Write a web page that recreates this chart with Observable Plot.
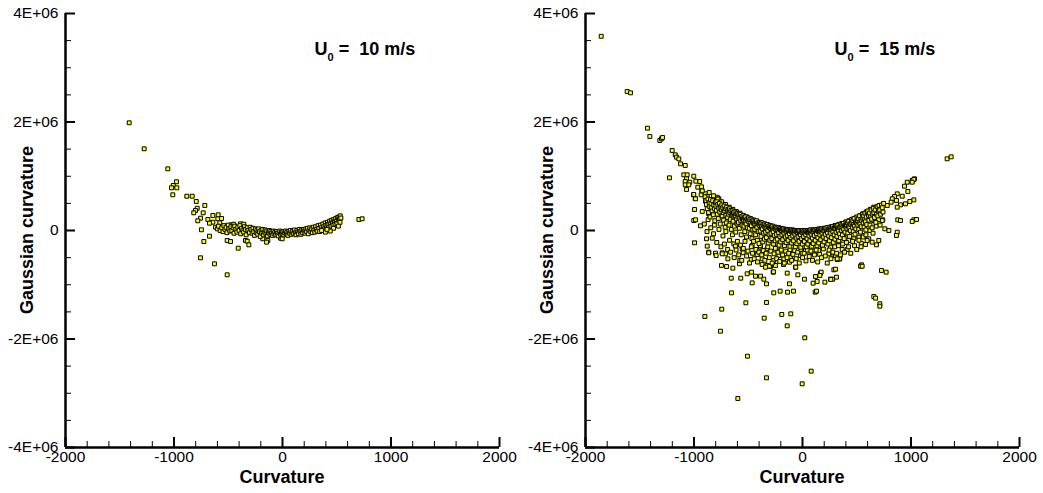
<!DOCTYPE html>
<html><head><meta charset="utf-8">
<script src="https://cdn.jsdelivr.net/npm/d3@7"></script>
<script src="https://cdn.jsdelivr.net/npm/@observablehq/plot@0.6"></script>
<style>
body{margin:0;background:#fff;}
#wrap{display:flex;width:1043px;height:493px;overflow:hidden;}
</style></head><body><div id="wrap"></div>
<script>
const xTicksMajor = [-2000, -1000, 0, 1000, 2000];
const xTicksMinor = [-1800,-1600,-1400,-1200,-800,-600,-400,-200,200,400,600,800,1200,1400,1600,1800];
const yTicksMajor = [-4, -2, 0, 2, 4]; // Gaussian curvature in units of 1E+06
const yTicksMinor = [-3.5,-3,-2.5,-1.5,-1,-0.5,0.5,1,1.5,2.5,3,3.5];
const panelSpeeds = ["10 m/s", "15 m/s"];
const xLabel = "Curvature";
const yLabel = "Gaussian curvature";

// [curvature, Gaussian curvature / 1E+06]
const u10Points = [
[-1413,1.985],[-1275,1.506],[-1057,1.137],[-977,0.898],[-1007,0.83],[-1023,0.787],[-974,0.787],[-1011,0.658],[-882,0.632],[-832,0.632],[-795,0.535],[-716,0.461],[-786,0.41],[-802,0.369],[-818,0.326],[-731,0.326],[-642,0.276],[-593,0.289],[-756,0.227],[-688,0.203],[-596,0.216],[-562,0.221],[-781,0.179],[-642,0.153],[-673,0.135],[-578,0.142],[-470,0.105],[-449,0.116],[-387,0.123],[-357,0.116],[-747,0.013],[-673,-0.105],[-725,-0.203],[-510,-0.184],[-479,-0.203],[-341,-0.184],[-325,-0.197],[-310,-0.264],[-408,-0.326],[-756,-0.503],[-627,-0.614],[-510,-0.817],[-182,-0.153],[-135,-0.184],[-147,-0.215],[-18,-0.142],[-3,-0.153],[704,0.203],[734,0.216],
[-617,0.06],[-600,0.03],[-590,0.08],[-575,0.0],[-560,0.05],[-548,-0.02],[-540,0.09],[-530,0.02],[-520,0.06],[-512,-0.04],[-500,0.1],[-495,0.03],[-485,-0.01],[-475,0.07],[-468,0.0],[-455,0.05],[-447,-0.05],[-440,0.08],[-430,0.02],[-420,-0.03],[-412,0.06],[-400,0.0],[-393,0.09],[-385,-0.06],[-378,0.04],[-365,0.01],[-358,-0.03],[-350,0.07],[-342,0.02],[-335,-0.08],[-325,0.05],[-318,0.0],[-305,-0.04],[-298,0.06],
[-290,0.02],[-280,-0.05],[-272,0.04],[-265,-0.02],[-258,-0.09],[-250,0.03],[-242,-0.04],[-235,0.01],[-228,-0.07],[-220,0.03],[-212,-0.02],[-205,-0.11],[-197,0.0],[-190,-0.05],[-182,0.02],[-175,-0.08],[-168,-0.03],[-160,0.01],[-152,-0.06],[-145,-0.01],[-138,-0.1],[-130,-0.04],[-122,0.0],[-115,-0.07],[-108,-0.02],[-100,-0.05],[-92,-0.09],[-85,-0.01],[-78,-0.06],[-70,-0.03],[-62,-0.08],[-55,-0.02],[-48,-0.05],[-40,-0.1],[-32,-0.04],[-25,-0.01],[-18,-0.07],[-10,-0.03],[-3,-0.06],[5,-0.02],[12,-0.08],[20,-0.04],[28,-0.01],[35,-0.06],[42,-0.03],[50,-0.09],[58,-0.02],[65,-0.05],[72,0.0],[80,-0.07],[88,-0.03],[95,-0.01],[103,-0.06],[110,0.01],[118,-0.04],[125,-0.08],[133,0.0],[140,-0.03],[148,-0.06],[155,0.02],[163,-0.02],[170,-0.07],[178,0.01],[185,-0.04],[193,0.02],[200,-0.01],[208,-0.05],[215,0.03],[222,-0.02],[230,0.04],[238,-0.06],[245,0.01],
[252,0.05],[260,-0.02],[268,0.03],[275,-0.04],[283,0.06],[290,0.01],[298,-0.03],[305,0.07],[312,0.02],[320,-0.01],[328,0.09],[335,0.04],[342,-0.02],[350,0.1],[357,0.05],[365,0.01],[372,0.12],[380,0.07],[387,0.03],[394,0.14],[400,0.09],[407,0.05],[414,0.15],[420,0.11],[427,0.06],[434,0.17],[440,0.12],[447,0.08],[453,0.19],[460,0.14],[466,0.1],[472,0.2],[478,0.16],[484,0.12],[490,0.22],[496,0.17],[502,0.13],[508,0.24],[514,0.19],[520,0.25],[526,0.21],[532,0.27],[538,0.23],[530,0.15],[515,0.08],[470,0.04],[440,-0.01],[395,-0.03],[360,0.0],[410,0.02]
];

const u15Points = [
[-1855,3.58],[-1616,2.562],[-1585,2.538],[-1429,1.886],[-1407,1.733],[-1315,1.659],[-1300,1.69],[-1290,1.714],[-1201,1.475],[-1173,1.395],[-1161,1.351],[-1140,1.32],[-1124,1.229],[-1081,1.198],[-1226,0.971],[-1094,1.026],[-1063,1.026],[-1069,0.953],[-1081,0.903],[-1039,0.89],[-1002,1.001],[-1081,0.842],[-1048,0.842],[-983,0.909],[-947,0.903],[-1069,0.756],[-965,0.798],[-931,0.805],[-928,0.731],[-1005,0.658],[-989,0.59],[-934,0.658],[-894,0.677],[-878,0.632],[-894,0.54],[-854,0.553],[-832,0.522],[-786,0.614],[-771,0.584],[-924,0.731],[-1002,0.664],[-986,0.584],[-848,0.571],[-817,0.595],[-793,0.553],[-762,0.522],[-740,0.492],[-793,0.461],[-864,0.43],[-995,0.387],[-924,0.35],[-864,0.307],[-1002,0.184],[-986,0.197],[-940,0.086],[-995,-0.227],[-885,-0.153],[-832,-0.141],[-878,-0.288],[-864,-0.399],[-802,-0.418],[-740,-0.411],[-710,-0.43],[-633,-0.246],[-618,-0.288],[-556,-0.338],[-464,-0.276],[-387,-0.307],[-326,-0.338],[-233,-0.307],[-111,-0.436],[-18,-0.461],[28,-0.369],
[1333,1.321],[1370,1.358],[1011,0.922],[1032,0.953],[1026,0.94],[1011,0.89],[965,0.89],[940,0.817],[971,0.719],[873,0.676],[848,0.627],[827,0.584],[866,0.553],[817,0.522],[919,0.632],[1026,0.565],[989,0.535],[949,0.492],[903,0.473],[873,0.43],[781,0.461],[728,0.461],[689,0.399],[627,0.369],[596,0.307],[565,0.276],
[664,0.197],[740,0.197],[878,0.197],[903,0.184],[1026,0.197],[1051,0.203],[1011,0.166],[657,0.184],[735,0.184],
[759,0.031],[796,0.0],[873,-0.031],[866,-0.092],[703,-0.184],[682,-0.264],[642,-0.215],[611,-0.153],[544,-0.633],[581,-0.258],[541,-0.234],
[289,-0.461],[304,-0.461],[320,-0.535],[344,-0.522],[366,-0.35],[412,-0.35],
[-900,-1.585],[-756,-1.856],[-744,-1.45],[-654,-1.149],[-522,-1.333],[-507,-2.317],[-332,-2.715],[-596,-3.097],[-3,-2.826],[80,-2.593],[21,-1.978],[-353,-1.616],[-191,-1.548],[-108,-1.536],[-141,-1.757],[-332,-1.327],[-265,-1.149],[-206,-1.118],[-138,-1.137],[-83,-1.118],[117,-1.137],[129,-1.118],[657,-1.217],[673,-1.247],[713,-1.351],[713,-1.395],[535,-0.658],[550,-0.658],[728,-0.737],[771,-0.768],[-657,-0.879],[-569,-0.879],[-510,-0.798],[-470,-0.768],[-433,-0.842],[-387,-0.842],[-332,-0.983],[-464,-0.965],[-357,-0.897],[-270,-0.768],[-141,-0.786],[-43,-0.817],[18,-0.897],[-120,-0.983],[98,-0.971],[135,-0.94],[120,-0.848],[166,-0.786],[206,-0.952],[258,-0.897],[279,-0.897],[313,-0.86],[289,-0.725],[304,-0.713],[341,-0.522],[-747,-0.645],[-700,-0.664],[-642,-0.694],[-581,-0.614],[-578,-0.553],
[-864,-0.411],[-796,-0.461],[-740,-0.43],[-688,-0.522],[-547,-0.411],[-473,-0.535],[-418,-0.442],[-372,-0.522],[-326,-0.645],[-295,-0.664],[-265,-0.553],[-218,-0.461],[-172,-0.522],[-111,-0.492],[-65,-0.676],[-3,-0.418],[58,-0.4],[104,-0.43],[242,-0.43],[320,-0.522],
[-372,-0.627],[-341,-0.676],[-304,-0.658],[-249,-0.645],[-267,-0.762],[-175,-0.627],[-120,-0.584],[-62,-0.676],[172,-0.768],[160,-0.829],[261,-0.903],
[12,-0.184],[58,-0.246],[104,-0.307],[150,-0.369],[181,-0.276],[212,-0.215],[258,-0.307],[289,-0.153],[335,-0.215],[381,-0.123],[427,-0.184],[473,-0.153],[519,-0.123],[565,-0.092],[596,-0.184],
[-905,0.12],[-880,-0.02],[-870,0.2],[-845,0.05],[-820,-0.06],[-812,0.1],[-790,-0.22],[-770,0.02],[-752,-0.3],[-733,-0.1],[-720,-0.25],[-706,-0.02],[-690,-0.35],[-672,-0.18],[-662,-0.4],[-646,-0.08],[-630,-0.5],[-612,-0.36],[-600,-0.2],[-588,-0.45],[-571,-0.27],[-560,-0.55],[-545,-0.33],[-530,-0.2],[-515,-0.47],[-503,-0.38],[-488,-0.6],[-472,-0.3],[-460,-0.42],[-445,-0.52],[-430,-0.35],[-415,-0.58],[-402,-0.4],[-390,-0.28],[-376,-0.45],[-362,-0.37],[-347,-0.55],[-335,-0.42],[-320,-0.3],[-306,-0.5],[-292,-0.38],[-280,-0.6],[-262,-0.43],[-250,-0.33],[-238,-0.52],[-225,-0.4],[-210,-0.57],[-196,-0.36],[-183,-0.45],[-168,-0.6],[-155,-0.38],[-142,-0.5],[-128,-0.42],[-115,-0.35],[-100,-0.55],[-88,-0.44],[-72,-0.37],[-58,-0.52],[-45,-0.4],[-30,-0.6],[-14,-0.35],[0,-0.5],[15,-0.42],[32,-0.56],[45,-0.36],[62,-0.48],[78,-0.38],[92,-0.55],[110,-0.45],[126,-0.36],[140,-0.58],[158,-0.44],[175,-0.5],[192,-0.34],[210,-0.47],[228,-0.6],[245,-0.36],[262,-0.52],[280,-0.4],[297,-0.3],[315,-0.42],[332,-0.28],[350,-0.45],[370,-0.25],[388,-0.4],[405,-0.22],[425,-0.3],[445,-0.42],[462,-0.2],[480,-0.28],[500,-0.35],[520,-0.18],[540,-0.3],[560,-0.12],[585,-0.08],[620,0.0],[650,-0.05],[680,0.08],[700,0.2],[715,0.1],
[-860,0.70],[-820,0.64],[-780,0.58],[-745,0.53],[-710,0.48],[-675,0.43],[-642,0.39],[-610,0.35],[-578,0.32],[-545,0.28],[-512,0.25],[-480,0.22],[-447,0.19],[-415,0.16],[-383,0.14],[-350,0.12],[-318,0.1],[-285,0.08],[-253,0.06],[-220,0.05],[-188,0.03],[-155,0.02],[-122,0.01],[-90,0.01],[-57,0.0],[-25,0.0],[8,0.0],[40,0.0],[72,0.01],[105,0.01],[137,0.02],[170,0.03],[202,0.04],[235,0.05],[268,0.07],[300,0.09],[333,0.11],[365,0.13],[398,0.15],[430,0.18],[463,0.21],[495,0.24],[528,0.27],[560,0.31],[592,0.35],[625,0.39],[657,0.43],
[-898,0.62],[-890,0.55],[-885,0.48],[-878,0.40],[-872,0.58],[-865,0.33],[-860,0.51],[-855,0.44],[-852,0.25],
[-848,0.57],[-843,0.50],[-838,0.42],[-833,0.36],[-828,0.55],[-822,0.29],[-818,0.47],[-812,0.40],[-808,0.18],[-803,0.52],
[-798,0.45],[-794,0.37],[-790,0.53],[-785,0.30],[-780,0.48],[-776,0.22],[-771,0.41],[-766,0.50],[-762,0.34],[-758,0.12],[-754,0.44],
[-748,0.38],[-744,0.47],[-740,0.27],[-735,0.42],[-731,0.33],[-727,0.19],[-722,0.45],[-718,0.36],[-713,0.06],[-709,0.40],[-705,0.28],[-702,0.14],
[-698,0.43],[-694,0.35],[-690,0.24],[-686,0.39],[-681,0.30],[-677,0.10],[-673,0.40],[-669,0.33],[-665,0.20],[-660,0.37],[-656,0.02],[-652,0.28],
[-648,0.36],[-644,0.30],[-640,0.17],[-636,0.33],[-631,0.25],[-627,0.08],[-623,0.34],[-619,0.27],[-615,-0.03],[-611,0.31],[-607,0.21],[-603,0.12],
[-598,0.31],[-594,0.25],[-590,0.15],[-586,0.29],[-582,0.04],[-578,0.22],[-573,0.30],[-569,0.18],[-565,-0.08],[-561,0.26],[-557,0.10],[-553,0.21],
[-548,0.27],[-544,0.19],[-540,0.08],[-536,0.24],[-532,-0.02],[-528,0.16],[-524,0.25],[-520,0.12],[-516,-0.12],[-512,0.21],[-508,0.05],[-504,0.18],
[-498,0.23],[-494,0.16],[-490,0.04],[-486,0.20],[-482,-0.06],[-478,0.13],[-474,0.21],[-470,0.09],[-466,-0.15],[-462,0.18],[-458,0.01],[-454,0.14],[-451,-0.2],
[-448,0.19],[-444,0.12],[-440,0.02],[-436,0.17],[-432,-0.08],[-428,0.10],[-424,0.18],[-420,0.06],[-416,-0.18],[-412,0.14],[-408,-0.02],[-404,0.11],[-401,-0.24],
[-398,0.15],[-394,0.09],[-390,-0.01],[-386,0.13],[-382,-0.11],[-378,0.07],[-374,0.14],[-370,0.03],[-366,-0.21],[-362,0.11],[-358,-0.05],[-354,0.08],[-351,-0.16],
[-348,0.12],[-344,0.06],[-340,-0.03],[-336,0.10],[-332,-0.13],[-328,0.04],[-324,0.11],[-320,0.0],[-316,-0.23],[-312,0.08],[-308,-0.07],[-304,0.05],[-301,-0.18],
[-298,0.09],[-294,0.04],[-290,-0.05],[-286,0.07],[-282,-0.15],[-278,0.02],[-274,0.08],[-270,-0.02],[-266,-0.25],[-262,0.05],[-258,-0.09],[-254,0.03],[-251,-0.19],
[-248,0.06],[-244,0.02],[-240,-0.07],[-236,0.05],[-232,-0.16],[-228,0.0],[-224,0.05],[-220,-0.04],[-216,-0.27],[-212,0.03],[-208,-0.11],[-204,0.01],[-201,-0.21],
[-198,0.04],[-194,0.0],[-190,-0.08],[-186,0.03],[-182,-0.17],[-178,-0.02],[-174,0.03],[-170,-0.05],[-166,-0.28],[-162,0.01],[-158,-0.12],[-154,-0.01],[-151,-0.22],
[-148,0.02],[-144,-0.02],[-140,-0.09],[-136,0.01],[-132,-0.18],[-128,-0.03],[-124,0.01],[-120,-0.06],[-116,-0.29],[-112,0.0],[-108,-0.13],[-104,-0.02],[-101,-0.23],
[-98,0.01],[-94,-0.03],[-90,-0.1],[-86,0.0],[-82,-0.19],[-78,-0.04],[-74,0.0],[-70,-0.07],[-66,-0.3],[-62,-0.01],[-58,-0.14],[-54,-0.03],[-51,-0.24],
[-48,0.0],[-44,-0.04],[-40,-0.11],[-36,-0.01],[-32,-0.2],[-28,-0.05],[-24,0.0],[-20,-0.08],[-16,-0.31],[-12,-0.02],[-8,-0.15],[-4,-0.04],[-1,-0.25],
[2,0.0],[6,-0.04],[10,-0.11],[14,-0.01],[18,-0.2],[22,-0.05],[26,0.0],[30,-0.08],[34,-0.3],[38,-0.02],[42,-0.15],[46,-0.04],[49,-0.25],
[52,0.0],[56,-0.03],[60,-0.1],[64,0.0],[68,-0.19],[72,-0.04],[76,0.01],[80,-0.07],[84,-0.29],[88,-0.01],[92,-0.14],[96,-0.03],[99,-0.24],
[102,0.01],[106,-0.02],[110,-0.09],[114,0.01],[118,-0.18],[122,-0.03],[126,0.02],[130,-0.06],[134,-0.28],[138,0.0],[142,-0.13],[146,-0.02],[149,-0.23],
[152,0.03],[156,-0.01],[160,-0.08],[164,0.02],[168,-0.17],[172,-0.02],[176,0.03],[180,-0.05],[184,-0.27],[188,0.01],[192,-0.12],[196,-0.01],[199,-0.21],
[202,0.04],[206,0.0],[210,-0.07],[214,0.04],[218,-0.15],[222,-0.01],[226,0.05],[230,-0.04],[234,-0.25],[238,0.02],[242,-0.1],[246,0.01],[249,-0.19],
[252,0.06],[256,0.02],[260,-0.05],[264,0.06],[268,-0.13],[272,0.01],[276,0.07],[280,-0.02],[284,-0.22],[288,0.04],[292,-0.08],[296,0.03],[299,-0.16],
[302,0.09],[306,0.04],[310,-0.03],[314,0.08],[318,-0.11],[322,0.03],[326,0.10],[330,0.0],[334,-0.19],[338,0.06],[342,-0.06],[346,0.05],[349,-0.13],
[352,0.12],[356,0.07],[360,0.0],[364,0.11],[368,-0.08],[372,0.05],[376,0.13],[380,0.02],[384,-0.15],[388,0.09],[392,-0.03],[396,0.08],
[402,0.16],[406,0.10],[410,0.03],[414,0.14],[418,-0.05],[422,0.08],[426,0.17],[430,0.05],[434,-0.11],[438,0.12],[442,0.0],[446,0.11],
[452,0.2],[456,0.14],[460,0.06],[464,0.18],[468,-0.02],[472,0.11],[476,0.22],[480,0.08],[484,-0.07],[488,0.16],[492,0.03],[496,0.14],
[502,0.25],[506,0.18],[510,0.1],[514,0.22],[518,0.02],[522,0.15],[526,0.27],[530,0.12],[534,-0.03],[538,0.2],[542,0.07],[546,0.18],
[552,0.3],[556,0.23],[560,0.14],[564,0.27],[568,0.06],[572,0.2],[576,0.32],[580,0.16],[584,0.01],[588,0.25],[592,0.11],[596,0.34],
[602,0.36],[607,0.28],[612,0.19],[617,0.32],[622,0.1],[627,0.25],[632,0.38],[637,0.21],[642,0.05],[647,0.30],
[652,0.41],[658,0.33],[664,0.24],[670,0.38],[676,0.15],[682,0.30],[688,0.44],[694,0.27],[699,0.36],
[705,0.46],[712,0.38],[720,0.3],[728,0.47],[735,0.42],[742,0.34],[748,0.5]
];

const FONT = "'Liberation Sans', Arial, Helvetica, sans-serif";
const fmtY = d => d === 0 ? "0" : (d < 0 ? "-" : "") + Math.abs(d) + "E+06";

function panel(points, speed, width, titlePos) {
  const frameW = 434, frameH = 434;
  const mL = 65, mR = width - mL - frameW, mT = 13, mB = 493 - mT - frameH;
  const plot = Plot.plot({
    width, height: 493,
    marginLeft: mL, marginRight: mR, marginTop: mT, marginBottom: mB,
    style: {fontFamily: FONT, fontSize: "15px", color: "black", background: "white", overflow: "visible"},
    x: {domain: [-2000, 2000]},
    y: {domain: [-4, 4]},
    marks: [
      Plot.dot(points, {x: d => d[0], y: d => d[1], symbol: "square", r: 2.2, fill: "#ffff00", stroke: "black", strokeWidth: 1}),
      Plot.tickY(yTicksMinor, {y: d => d, insetRight: frameW - 6, stroke: "black", strokeWidth: 1}),
      Plot.tickY(yTicksMajor, {y: d => d, insetRight: frameW - 10, stroke: "black", strokeWidth: 2}),
      Plot.tickX(xTicksMinor, {x: d => d, insetTop: frameH - 6, stroke: "black", strokeWidth: 1}),
      Plot.tickX(xTicksMajor, {x: d => d, insetTop: frameH - 10, stroke: "black", strokeWidth: 2}),
      Plot.ruleX([-2000], {stroke: "black", strokeWidth: 2.5}),
      Plot.ruleY([-4], {stroke: "black", strokeWidth: 2.5}),
      Plot.axisY(yTicksMajor, {tickSize: 0, tickPadding: 7, tickFormat: fmtY, label: null}),
      Plot.axisX(xTicksMajor, {tickSize: 0, tickPadding: 3, tickFormat: d => String(d), label: null})
    ]
  });
  const svg = d3.select(plot);
  // tick label font: applied directly to every axis text element
  svg.selectAll("text")
    .style("font-size", "15.5px").style("font-family", FONT);
  const sx = plot.scale("x"), sy = plot.scale("y");
  // x axis title
  svg.append("text")
    .attr("x", (sx.apply(-2000) + sx.apply(2000)) / 2)
    .attr("y", 493 - 10)
    .attr("text-anchor", "middle")
    .style("font-family", FONT).style("font-size", "18px").style("font-weight", "bold").attr("fill", "black")
    .text(xLabel);
  // y axis title
  svg.append("text")
    .attr("transform", `translate(33,${(sy.apply(4) + sy.apply(-4)) / 2}) rotate(-90)`)
    .attr("text-anchor", "middle")
    .style("font-family", FONT).style("font-size", "18px").style("font-weight", "bold").attr("fill", "black")
    .text(yLabel);
  // panel annotation U0 = ...
  const t = svg.append("text")
    .attr("x", sx.apply(titlePos[0]))
    .attr("y", sy.apply(titlePos[1]))
    .attr("text-anchor", "start")
    .style("font-family", FONT).style("font-size", "18px").style("font-weight", "bold").attr("fill", "black");
  t.append("tspan").text("U");
  t.append("tspan").style("font-size", "11px").attr("dy", 6).text("0");
  t.append("tspan").attr("dy", -6).attr("dx", 5).text("=");
  t.append("tspan").attr("dx", 10).text(speed);
  return plot;
}

const wrap = document.getElementById("wrap");
wrap.appendChild(panel(u10Points, panelSpeeds[0], 520, [300, 3.23]));
wrap.appendChild(panel(u15Points, panelSpeeds[1], 523, [300, 3.23]));
</script>
</body></html>
